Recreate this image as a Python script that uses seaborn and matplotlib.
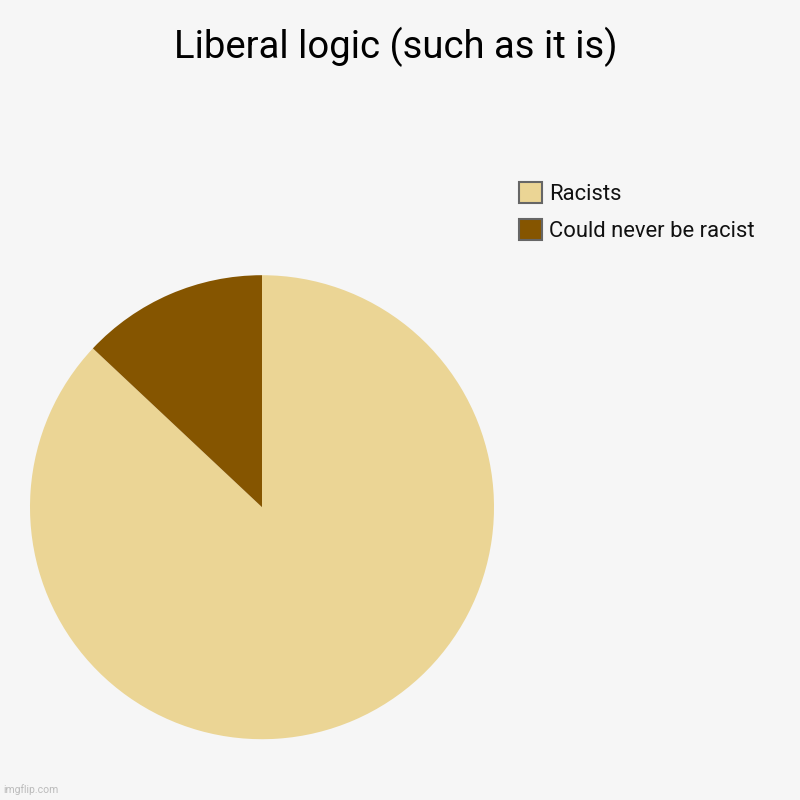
import matplotlib
matplotlib.use('Agg')
import matplotlib.pyplot as plt
import matplotlib.patches as mpatches
import seaborn as sns

# chart data
labels = ['Racists', 'Could never be racist']
values = [87, 13]
colors = ['#ebd595', '#855500']
title = 'Liberal logic (such as it is)'

sns.set_theme(style='white')
plt.rcParams['font.family'] = ['Roboto', 'DejaVu Sans']

fig = plt.figure(figsize=(8, 8), dpi=100)
fig.patch.set_facecolor('#f6f6f6')

# pie centred at (262, 507) px, radius ~232 px
ax = fig.add_axes([0.3275 - 0.29, 0.366 - 0.29, 0.58, 0.58])
ax.pie(values, colors=colors, startangle=90, counterclock=False,
       radius=1, wedgeprops=dict(linewidth=0))
ax.set_xlim(-1, 1)
ax.set_ylim(-1, 1)
ax.set_aspect('equal')
ax.axis('off')

fig.text(0.495, 0.941, title, ha='center', va='center', fontsize=27.5, color='#000000')

handles = [mpatches.Patch(facecolor=c, edgecolor='#666666', linewidth=1.5, label=l)
           for c, l in zip(colors, labels)]
leg = fig.legend(handles=handles, loc='upper left', bbox_to_anchor=(0.6485, 0.772),
                 frameon=False, fontsize=15.8, handlelength=1.06, handleheight=1.06,
                 handletextpad=0.32, labelspacing=0.64, borderaxespad=0, borderpad=0)
for t in leg.get_texts():
    t.set_color('#111111')

fig.text(0.004, 0.006, 'imgflip.com', fontsize=7.5, color='#bbbbbb', ha='left', va='bottom')

fig.savefig('out.png', dpi=100, facecolor=fig.get_facecolor())
